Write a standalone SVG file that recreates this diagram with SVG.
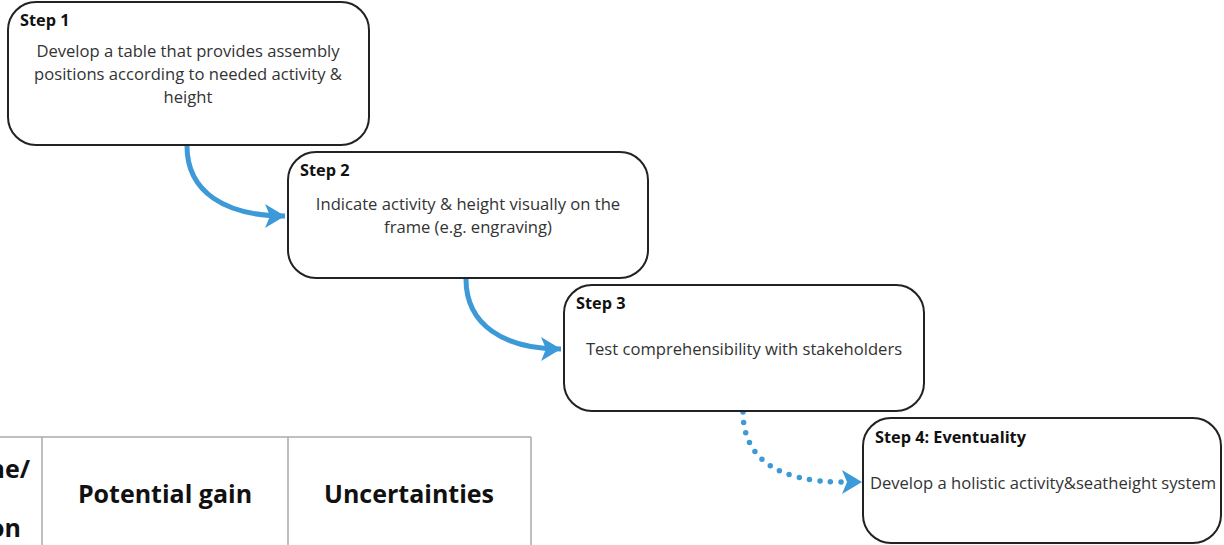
<svg xmlns="http://www.w3.org/2000/svg" width="1224" height="545" viewBox="0 0 1224 545">
<style>
.box{fill:#fff;stroke:#222;stroke-width:2}
.lbl{font-family:"Open Sans",sans-serif;font-size:16.3px;font-weight:bold;fill:#111}
.txt{font-family:"Open Sans",sans-serif;font-size:16.6px;fill:#333;text-anchor:middle}
.con{fill:none;stroke:#3d9ad8;stroke-width:5}
.dot{fill:none;stroke:#3d9ad8;stroke-width:5.5;stroke-linecap:round;stroke-dasharray:0 10.5}
.tbl{stroke:#aaa;stroke-width:1.5;fill:none}
.th{font-family:"Open Sans",sans-serif;font-size:25px;font-weight:bold;fill:#111;text-anchor:middle}
</style>
<defs>
<marker id="ah" markerUnits="userSpaceOnUse" markerWidth="22" markerHeight="24" refX="20" refY="12" orient="auto">
<path d="M0,0 L20,12 L0,24 L5,12 Z" fill="#3d9ad8"/>
</marker>
</defs>
<rect width="1224" height="545" fill="#fff"/>
<g id="table">
<path class="tbl" d="M0,437 H531 M42,437 V545 M288,437 V545 M531,437 V545"/>
<text class="th" x="30" y="478" style="text-anchor:end">ne/</text>
<text class="th" x="21" y="537" style="text-anchor:end">on</text>
<text class="th" x="165" y="503">Potential gain</text>
<text class="th" x="409" y="503">Uncertainties</text>
</g>
<g id="connectors">
<path class="con" d="M187,146 C187,192 225,216 285,216" marker-end="url(#ah)"/>
<path class="con" d="M466,279 C466,325 504,349 561,349" marker-end="url(#ah)"/>
<path class="dot" d="M743,412 C743,460 780,482 842,482"/>
<path d="M842,470 L862,482 L842,494 L847,482 Z" fill="#3d9ad8"/>
</g>
<g id="step1">
<rect class="box" x="8" y="2" width="361" height="143" rx="28"/>
<text class="lbl" x="20" y="26">Step 1</text>
<text class="txt" x="188" y="57">Develop a table that provides assembly</text>
<text class="txt" x="188" y="80">positions according to needed activity &amp;</text>
<text class="txt" x="188" y="103">height</text>
</g>
<g id="step2">
<rect class="box" x="288" y="152" width="360" height="126" rx="28"/>
<text class="lbl" x="300" y="176">Step 2</text>
<text class="txt" x="468" y="210">Indicate activity &amp; height visually on the</text>
<text class="txt" x="468" y="233">frame (e.g. engraving)</text>
</g>
<g id="step3">
<rect class="box" x="564" y="285" width="360" height="126" rx="28"/>
<text class="lbl" x="576" y="309">Step 3</text>
<text class="txt" x="744" y="355">Test comprehensibility with stakeholders</text>
</g>
<g id="step4">
<rect class="box" x="863" y="418" width="358" height="125" rx="28"/>
<text class="lbl" x="875" y="443">Step 4: Eventuality</text>
<text class="txt" x="1043" y="489">Develop a holistic activity&amp;seatheight system</text>
</g>
</svg>
